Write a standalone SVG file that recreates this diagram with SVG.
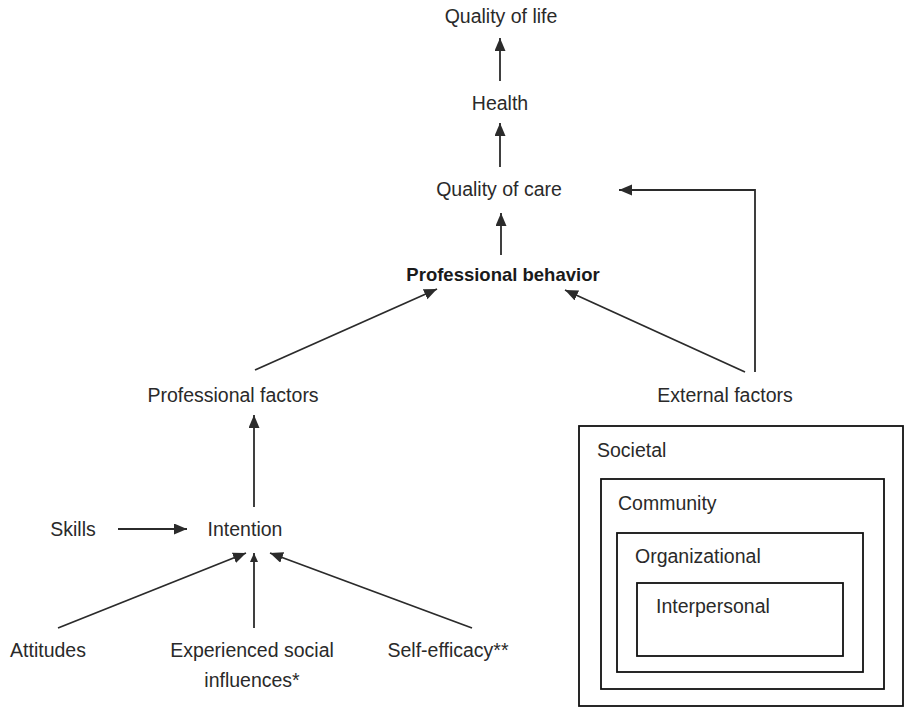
<svg xmlns="http://www.w3.org/2000/svg" width="908" height="711" viewBox="0 0 908 711">
  <defs>
    <marker id="ah" markerUnits="userSpaceOnUse" markerWidth="14" markerHeight="12" refX="13" refY="5.5" orient="auto">
      <path d="M0,0 L13,5.5 L0,11 z" fill="#2b2b2b"/>
    </marker>
    <marker id="ahs" markerUnits="userSpaceOnUse" markerWidth="10" markerHeight="9" refX="9" refY="4" orient="auto">
      <path d="M0,0 L9,4 L0,8 z" fill="#2b2b2b"/>
    </marker>
    <style>
      .t { font-family: "Liberation Sans", Arial, sans-serif; font-size: 19.5px; fill: #2a2a2a; }
      .m { text-anchor: middle; }
      .b { font-weight: bold; font-size: 18.5px; fill: #1a1a1a; }
      .c { fill: none; stroke: #2b2b2b; stroke-width: 1.8; }
      .box { fill: none; stroke: #111; stroke-width: 1.8; }
    </style>
  </defs>
  <rect width="908" height="711" fill="#ffffff"/>

  <g id="connectors">
    <line class="c" x1="500" y1="81" x2="500" y2="38" marker-end="url(#ah)"/>
    <line class="c" x1="500" y1="167" x2="500" y2="123" marker-end="url(#ah)"/>
    <line class="c" x1="501" y1="255" x2="501" y2="213" marker-end="url(#ah)"/>
    <line class="c" x1="255" y1="370" x2="437" y2="289" marker-end="url(#ah)"/>
    <line class="c" x1="745" y1="372" x2="565" y2="290" marker-end="url(#ah)"/>
    <path class="c" d="M755,372 V190 H619" marker-end="url(#ah)"/>
    <line class="c" x1="254" y1="507" x2="254" y2="415" marker-end="url(#ah)"/>
    <line class="c" x1="118" y1="529" x2="187" y2="529" marker-end="url(#ah)"/>
    <line class="c" x1="58" y1="628" x2="246" y2="553" marker-end="url(#ah)"/>
    <line class="c" x1="254" y1="628" x2="254" y2="553" marker-end="url(#ahs)"/>
    <line class="c" x1="472" y1="628" x2="270" y2="553" marker-end="url(#ah)"/>
  </g>

  <g id="quality-of-life"><text class="t m" x="501" y="23">Quality of life</text></g>
  <g id="health"><text class="t m" x="500" y="110">Health</text></g>
  <g id="quality-of-care"><text class="t m" x="499" y="196">Quality of care</text></g>
  <g id="professional-behavior"><text class="t m b" x="503" y="281">Professional behavior</text></g>
  <g id="professional-factors"><text class="t m" x="233" y="402">Professional factors</text></g>
  <g id="external-factors"><text class="t m" x="725" y="402">External factors</text></g>
  <g id="skills"><text class="t m" x="73" y="536">Skills</text></g>
  <g id="intention"><text class="t m" x="245" y="536">Intention</text></g>
  <g id="attitudes"><text class="t m" x="48" y="657">Attitudes</text></g>
  <g id="experienced-social-influences">
    <text class="t m" x="252" y="657">Experienced social</text>
    <text class="t m" x="252" y="687">influences*</text>
  </g>
  <g id="self-efficacy"><text class="t m" x="448" y="657">Self-efficacy**</text></g>

  <g id="levels">
    <g id="societal">
      <rect class="box" x="579" y="426" width="324" height="280"/>
      <text class="t" x="597" y="457">Societal</text>
    </g>
    <g id="community">
      <rect class="box" x="601" y="479" width="283" height="210"/>
      <text class="t" x="618" y="510">Community</text>
    </g>
    <g id="organizational">
      <rect class="box" x="617" y="533" width="246" height="139"/>
      <text class="t" x="635" y="563">Organizational</text>
    </g>
    <g id="interpersonal">
      <rect class="box" x="637" y="583" width="206" height="73"/>
      <text class="t" x="656" y="613">Interpersonal</text>
    </g>
  </g>
</svg>
